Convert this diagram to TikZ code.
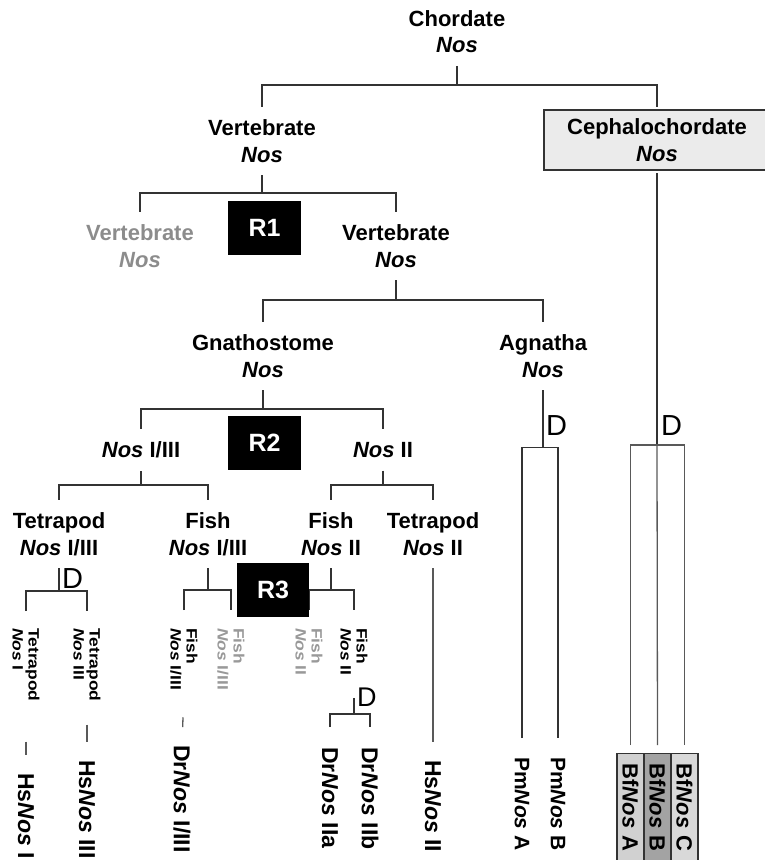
\documentclass[tikz,border=0pt]{standalone}
\usepackage{graphicx}
\usepackage{fontspec}
\setmainfont{Liberation Sans}
\newcommand{\Nosit}{\textit{Nos}}
\newcommand{\stretchtxt}[1]{\scalebox{1.16}[1]{#1}}
\begin{document}
\begin{tikzpicture}[x=1pt,y=-1pt,
  lbl/.style={font=\bfseries\fontsize{22}{26.5}\selectfont, align=center, inner sep=0pt, outer ysep=13pt},
  rbox/.style={fill=black, text=white, font=\bfseries\fontsize{25}{25}\selectfont, minimum width=73pt, minimum height=54pt, inner sep=0pt},
  slbl/.style={rotate=-90, anchor=west, align=left, inner sep=0pt, font=\bfseries\fontsize{15}{16}\selectfont},
  blbl/.style={rotate=-90, anchor=west, inner sep=0pt, font=\bfseries\fontsize{23}{23}\selectfont},
  bfbox/.style={rotate=-90, anchor=west, draw=black!80, line width=1.3pt, minimum height=27pt, text width=100pt, align=left, inner xsep=10pt, inner ysep=0pt, font=\bfseries\fontsize{22}{22}\selectfont},
  dl/.style={font=\fontsize{29}{29}\selectfont, inner sep=0pt, anchor=base west},
  tree/.style={draw=black!80, line width=2pt},
  mid/.style={draw=black!80, line width=1.6pt},
  thinl/.style={draw=black!65, line width=1.3pt},
  ]
\useasboundingbox (0,0) rectangle (765,860);

% upper labels
\node[lbl] (chord) at (457,31.5) {Chordate\\\Nosit};
\node[lbl] (vert) at (262,141) {Vertebrate\\\Nosit};
\node[lbl, draw=black!80, line width=1.5pt, fill=black!8, minimum width=226pt, minimum height=60pt, outer ysep=3pt] (ceph) at (657,140) {Cephalochordate\\\Nosit};
\node[lbl, text=black!45] (vgray) at (140,246) {Vertebrate\\\Nosit};
\node[lbl] (vblack) at (396,246) {Vertebrate\\\Nosit};
\node[lbl] (gnath) at (263,356) {Gnathostome\\\Nosit};
\node[lbl] (agn) at (543,356) {Agnatha\\\Nosit};
\node[lbl] (n13) at (141,450) {\Nosit{} I/III};
\node[lbl] (n2) at (383,450) {\Nosit{} II};
\node[lbl] (tet13) at (59,534) {Tetrapod\\\Nosit{} I/III};
\node[lbl] (fish13) at (208,534) {Fish\\\Nosit{} I/III};
\node[lbl] (fish2) at (331,534) {Fish\\\Nosit{} II};
\node[lbl] (tet2) at (433,534) {Tetrapod\\\Nosit{} II};

% small rotated labels
\node[slbl] (st1) at (26,628) {\stretchtxt{Tetrapod}\\\stretchtxt{\Nosit{} I}};
\node[slbl] (st3) at (87,628) {\stretchtxt{Tetrapod}\\\stretchtxt{\Nosit{} III}};
\node[slbl] (sf13) at (184,628) {\stretchtxt{Fish}\\\stretchtxt{\Nosit{} I/III}};
\node[slbl, text=black!40] (sf13g) at (231,628) {\stretchtxt{Fish}\\\stretchtxt{\Nosit{} I/III}};
\node[slbl, text=black!40] (sf2g) at (309,628) {\stretchtxt{Fish}\\\stretchtxt{\Nosit{} II}};
\node[slbl] (sf2) at (354,628) {\stretchtxt{Fish}\\\stretchtxt{\Nosit{} II}};

% gene labels
\node[blbl] (hs1) at (26,773) {Hs\Nosit{} I};
\node[blbl] (hs3) at (87,760) {Hs\Nosit{} III};
\node[blbl] (dr13) at (182,745) {Dr\Nosit{} I/III};
\node[blbl] (dr2a) at (330,747) {Dr\Nosit{} IIa};
\node[blbl] (dr2b) at (370,747) {Dr\Nosit{} IIb};
\node[blbl] (hs2) at (433,760) {Hs\Nosit{} II};
\node[blbl, font=\bfseries\fontsize{21}{21}\selectfont] (pma) at (522,757) {Pm\Nosit{} A};
\node[blbl, font=\bfseries\fontsize{21}{21}\selectfont] (pmb) at (558,757) {Pm\Nosit{} B};
\node[bfbox, fill=black!18] (bfa) at (630.5,753) {Bf\Nosit{} A};
\node[bfbox, fill=black!36] (bfb) at (657.5,753) {Bf\Nosit{} B};
\node[bfbox, fill=black!15] (bfc) at (684.5,753) {Bf\Nosit{} C};

% duplication marks
\node[dl] (d1) at (62,588) {D};
\node[dl] (d2) at (546,435) {D};
\node[dl] (d3) at (661,435) {D};
\node[dl, font=\fontsize{27}{27}\selectfont] (d4) at (357,706) {D};

% connectors
\draw[tree] (chord.south) -- ++(0,19) coordinate (c1);
\draw[tree] (vert.north) |- (c1) -| (ceph.north);
\draw[tree] (vert.south) -- ++(0,18) coordinate (c2);
\draw[tree] (vgray.north) |- (c2) -| (vblack.north);
\draw[tree] (vblack.south) -- ++(0,20) coordinate (c3);
\draw[tree] (gnath.north) |- (c3) -| (agn.north);
\draw[tree] (gnath.south) -- ++(0,19) coordinate (c4);
\draw[tree] (n13.north) |- (c4) -| (n2.north);
\draw[tree] (n13.south) -- ++(0,14) coordinate (c5);
\draw[tree] (tet13.north) |- (c5) -| (fish13.north);
\draw[tree] (n2.south) -- ++(0,14) coordinate (c6);
\draw[tree] (fish2.north) |- (c6) -| (tet2.north);

\draw[tree] (tet13.south) -- ++(0,23) coordinate (c7);
\draw[tree] ([yshift=17pt]st1.west) |- (c7) -| ([yshift=17pt]st3.west);
\draw[tree] (fish13.south) -- ++(0,22) coordinate (c8);
\draw[tree] ([yshift=18pt]sf13.west) |- (c8) -| ([yshift=18pt]sf13g.west);
\draw[tree] (fish2.south) -- ++(0,22) coordinate (c9);
\draw[tree] ([yshift=18pt]sf2g.west) |- (c9) -| ([yshift=18pt]sf2.west);
\draw[tree] ([yshift=-22pt]sf2.east) -- ++(0,16) coordinate (c10);
\draw[tree] ([yshift=20pt]dr2a.west) |- (c10) -| ([yshift=20pt]dr2b.west);

\draw[thinl, shorten <=40pt, shorten >=18pt] (st1.east) -- (hs1.west);
\draw[thinl, shorten <=23pt, shorten >=18pt] (st3.east) -- (hs3.west);
\draw[thinl, shorten <=27pt, shorten >=18pt] (sf13.east) -- (dr13.west);
\draw[thinl] (tet2.south) -- ([yshift=18pt]hs2.west);

\draw[mid] (agn.south) -- ++(0,57) coordinate (c11);
\draw[mid] ([yshift=19pt]pma.west) |- (c11) -| ([yshift=19pt]pmb.west);
\draw[mid] (ceph.south) -- ++(0,272) coordinate (c12);
\draw[thinl] ([yshift=8pt]bfa.west) |- (c12) -| ([yshift=8pt]bfc.west);
\draw[thinl] (c12) -- ([yshift=8pt]bfb.west);

% R boxes
\node[rbox] (r1) at (264.5,228) {R1};
\node[rbox] (r2) at (264.5,443) {R2};
\node[rbox, minimum width=72pt] (r3) at (273,590) {R3};
\end{tikzpicture}
\end{document}
